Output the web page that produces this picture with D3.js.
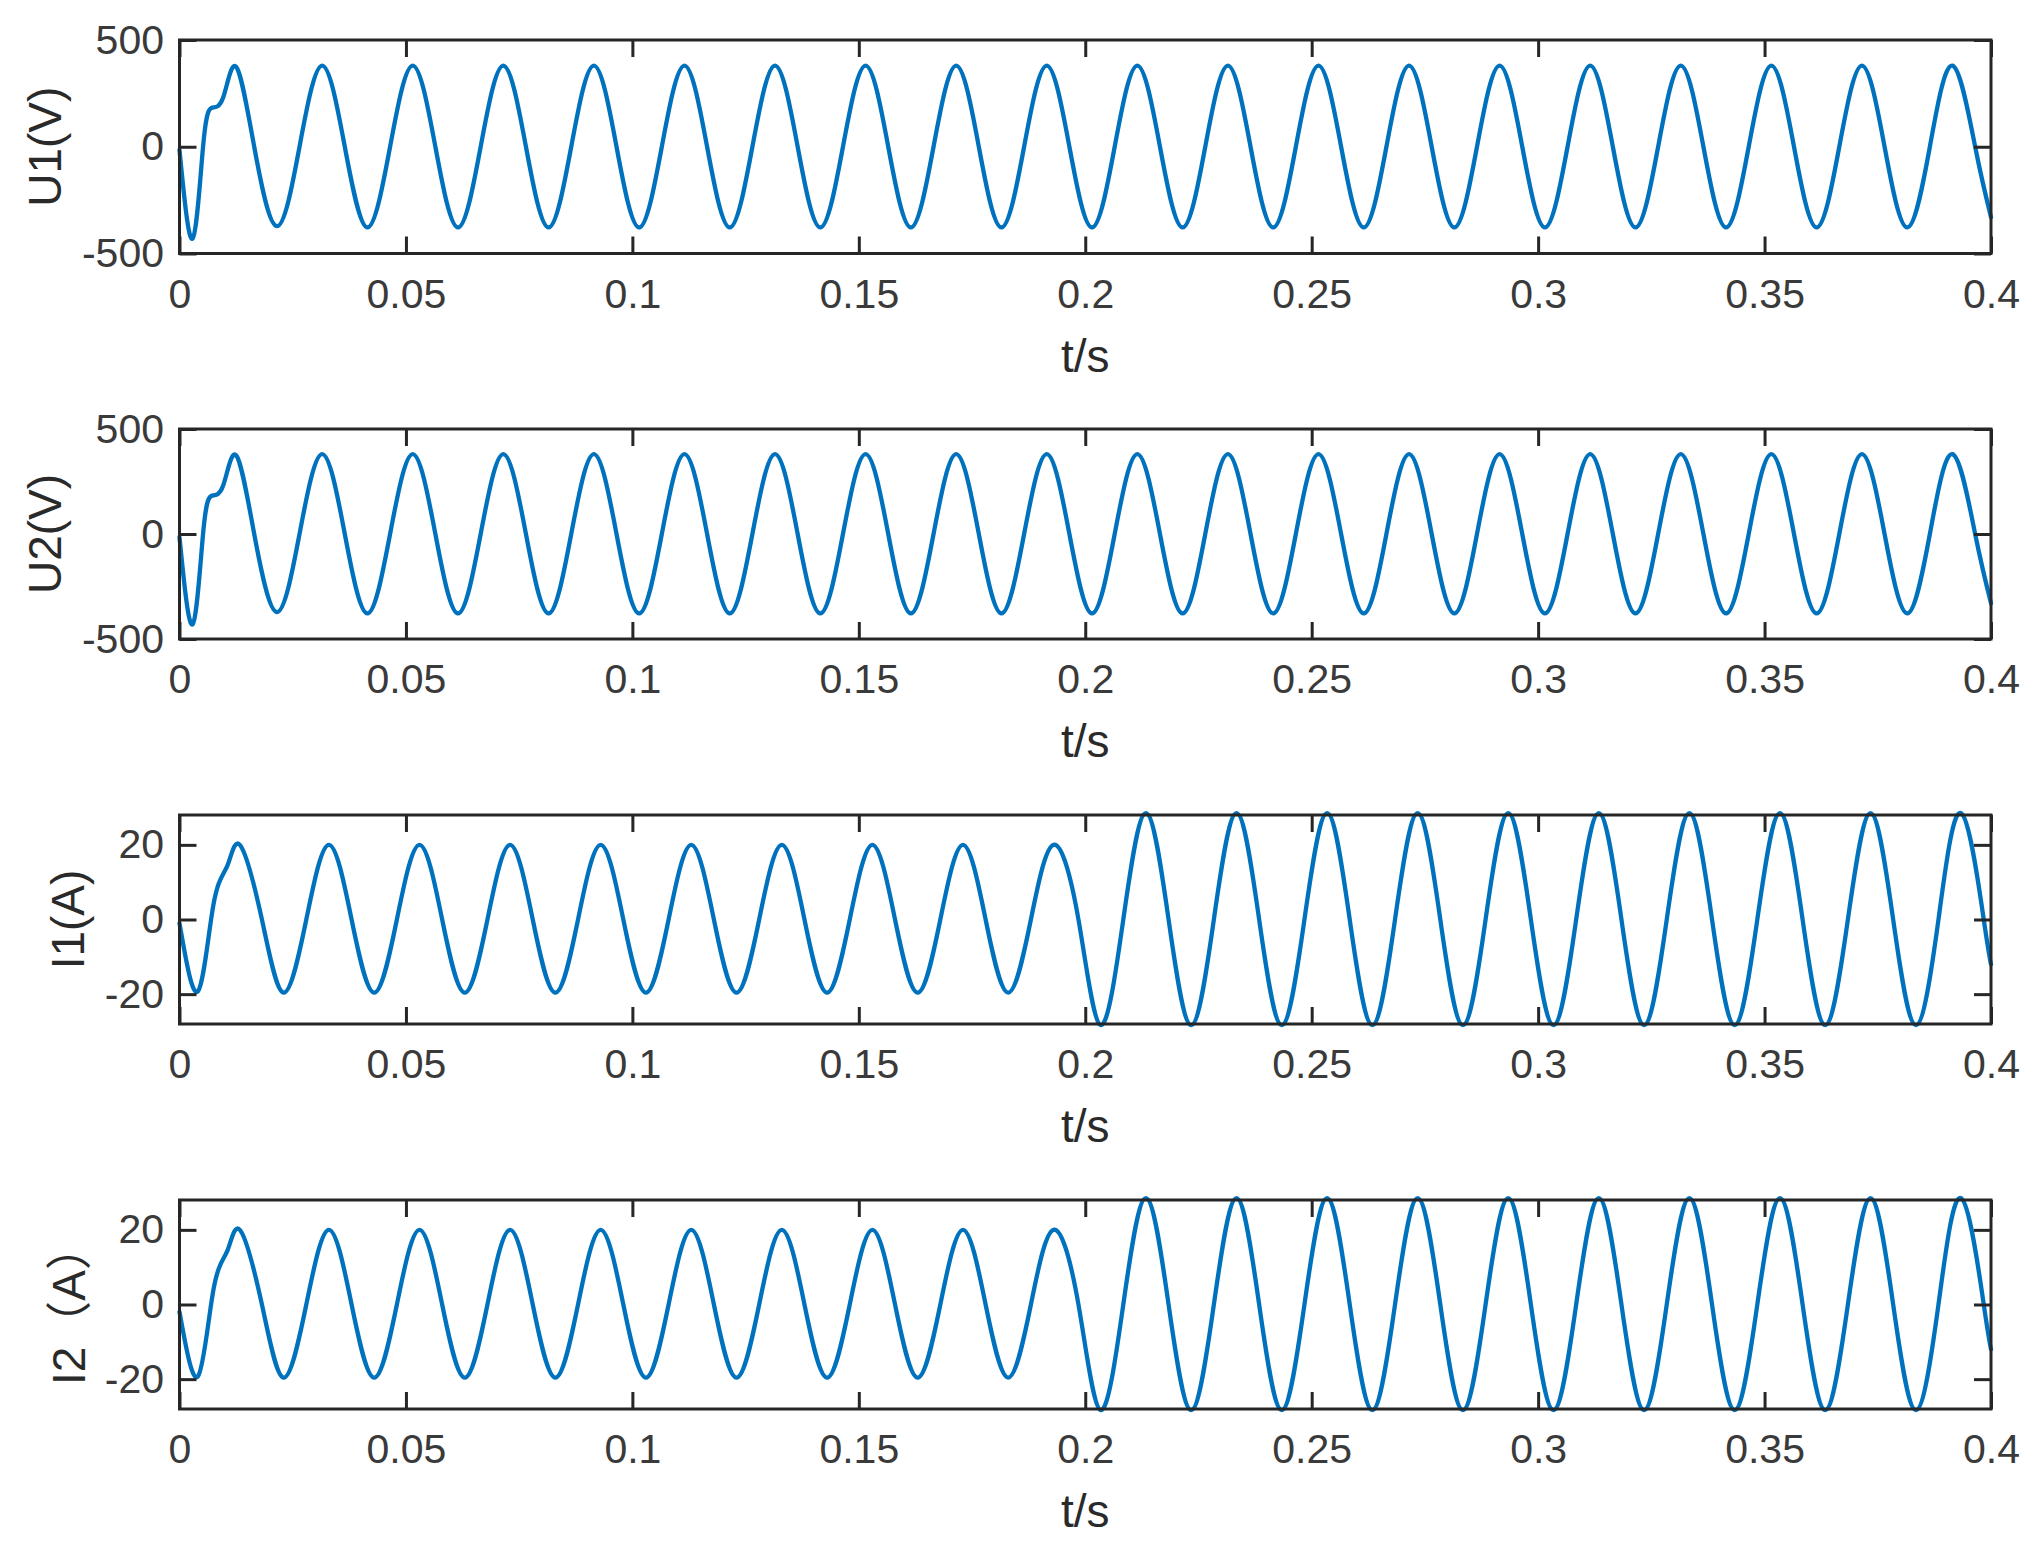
<!DOCTYPE html>
<html>
<head>
<meta charset="utf-8">
<script src="https://cdn.jsdelivr.net/npm/d3@7"></script>
<style>
  html, body { margin: 0; padding: 0; background: #ffffff; }
  svg { display: block; }
</style>
</head>
<body>
<svg id="chart" width="2041" height="1551"></svg>
<script>
// ---------------- DATA ----------------
const xTickValues = [0, 0.05, 0.1, 0.15, 0.2, 0.25, 0.3, 0.35, 0.4];
const xTickLabels = ["0", "0.05", "0.1", "0.15", "0.2", "0.25", "0.3", "0.35", "0.4"];
const uTicks = [-500, 0, 500];
const iTicks = [-20, 0, 20];
const yLabels = ["U1(V)", "U2(V)", "I1(A)", "I2（A）"];
const xLabel = "t/s";

// time stamps (s) of the read-off points for the voltage traces
const timeU = [
  0, 0.0029, 0.0052, 0.0070, 0.0096, 0.0125, 0.0165, 0.0215,
  0.0265, 0.0315, 0.0365, 0.0415, 0.0465, 0.0515, 0.0565, 0.0615,
  0.0665, 0.0715, 0.0765, 0.0815, 0.0865, 0.0915, 0.0965, 0.1015,
  0.1065, 0.1115, 0.1165, 0.1215, 0.1265, 0.1315, 0.1365, 0.1415,
  0.1465, 0.1515, 0.1565, 0.1615, 0.1665, 0.1715, 0.1765, 0.1815,
  0.1865, 0.1915, 0.1965, 0.2015, 0.2065, 0.2115, 0.2165, 0.2215,
  0.2265, 0.2315, 0.2365, 0.2415, 0.2465, 0.2515, 0.2565, 0.2615,
  0.2665, 0.2715, 0.2765, 0.2815, 0.2865, 0.2915, 0.2965, 0.3015,
  0.3065, 0.3115, 0.3165, 0.3215, 0.3265, 0.3315, 0.3365, 0.3415,
  0.3465, 0.3515, 0.3565, 0.3615, 0.3665, 0.3715, 0.3765, 0.3815,
  0.3865, 0.3915, 0.3965, 0.4
];
const u1Values = [
  -15, -430, 0, 181, 228, 375, 0, -372,
  0, 380, 0, -378, 0, 380, 0, -378,
  0, 380, 0, -378, 0, 380, 0, -378,
  0, 380, 0, -378, 0, 380, 0, -378,
  0, 380, 0, -378, 0, 380, 0, -378,
  0, 380, 0, -378, 0, 380, 0, -378,
  0, 380, 0, -378, 0, 380, 0, -378,
  0, 380, 0, -378, 0, 380, 0, -378,
  0, 380, 0, -378, 0, 380, 0, -378,
  0, 380, 0, -378, 0, 380, 0, -378,
  0, 380, 0, -330
];
const u2Values = [
  -15, -430, 0, 181, 228, 375, 0, -372,
  0, 380, 0, -378, 0, 380, 0, -378,
  0, 380, 0, -378, 0, 380, 0, -378,
  0, 380, 0, -378, 0, 380, 0, -378,
  0, 380, 0, -378, 0, 380, 0, -378,
  0, 380, 0, -378, 0, 380, 0, -378,
  0, 380, 0, -378, 0, 380, 0, -378,
  0, 380, 0, -378, 0, 380, 0, -378,
  0, 380, 0, -378, 0, 380, 0, -378,
  0, 380, 0, -378, 0, 380, 0, -378,
  0, 380, 0, -330
];

// time stamps (s) of the read-off points for the current traces
const timeI = [
  0, 0.0041, 0.0075, 0.0106, 0.0134, 0.0182, 0.0230,
  0.0280, 0.0330, 0.0380, 0.0430, 0.0480, 0.0530, 0.0580, 0.0630,
  0.0680, 0.0730, 0.0780, 0.0830, 0.0880, 0.0930, 0.0980, 0.1030,
  0.1080, 0.1130, 0.1180, 0.1230, 0.1280, 0.1330, 0.1380, 0.1430,
  0.1480, 0.1530, 0.1580, 0.1630, 0.1680, 0.1730, 0.1780, 0.1830,
  0.1880, 0.1930, 0.1985,
  0.2034, 0.2084, 0.2134, 0.2184, 0.2234, 0.2284, 0.2334, 0.2384,
  0.2434, 0.2484, 0.2534, 0.2584, 0.2634, 0.2684, 0.2734, 0.2784,
  0.2834, 0.2884, 0.2934, 0.2984, 0.3034, 0.3084, 0.3134, 0.3184,
  0.3234, 0.3284, 0.3334, 0.3384, 0.3434, 0.3484, 0.3534, 0.3584,
  0.3634, 0.3684, 0.3734, 0.3784, 0.3834, 0.3884, 0.3934, 0.3984,
  0.4
];
const i1Values = [
  -1, -19.2, 4, 14.5, 19.9, 0, -19.6,
  0, 20, 0, -19.6, 0, 20, 0, -19.6,
  0, 20, 0, -19.6, 0, 20, 0, -19.6,
  0, 20, 0, -19.6, 0, 20, 0, -19.6,
  0, 20, 0, -19.6, 0, 20, 0, -19.6,
  0, 20, 0,
  -28.3, 0, 28.5, 0, -28.3, 0, 28.5, 0,
  -28.3, 0, 28.5, 0, -28.3, 0, 28.5, 0,
  -28.3, 0, 28.5, 0, -28.3, 0, 28.5, 0,
  -28.3, 0, 28.5, 0, -28.3, 0, 28.5, 0,
  -28.3, 0, 28.5, 0, -28.3, 0, 28.5, 0,
  -12
];
const i2Values = [
  -2, -19.2, 4, 14.5, 19.9, 0, -19.6,
  0, 20, 0, -19.6, 0, 20, 0, -19.6,
  0, 20, 0, -19.6, 0, 20, 0, -19.6,
  0, 20, 0, -19.6, 0, 20, 0, -19.6,
  0, 20, 0, -19.6, 0, 20, 0, -19.6,
  0, 20, 0,
  -28.3, 0, 28.5, 0, -28.3, 0, 28.5, 0,
  -28.3, 0, 28.5, 0, -28.3, 0, 28.5, 0,
  -28.3, 0, 28.5, 0, -28.3, 0, 28.5, 0,
  -28.3, 0, 28.5, 0, -28.3, 0, 28.5, 0,
  -28.3, 0, 28.5, 0, -28.3, 0, 28.5, 0,
  -12
];

// ---------------- LAYOUT / STYLE ----------------
const FONT = '"Liberation Sans", Arial, Helvetica, "Noto Sans CJK SC", sans-serif';
const TICK_FONT = 41;
const LABEL_FONT = 46;
const TICK_COLOR = "#3a3a3a";
const LABEL_COLOR = "#2a2a2a";
const AXIS_COLOR = "#262626";
const LINE_COLOR = "#0072BD";
const TICK_LEN = 17;
const X0 = 179.5, X1 = 1991;

const panels = [
  { time: timeU, values: u1Values, domain: [-500, 500], ticks: uTicks, label: yLabels[0], top: 40,   bottom: 253.5, labelX: 61 },
  { time: timeU, values: u2Values, domain: [-500, 500], ticks: uTicks, label: yLabels[1], top: 429,  bottom: 639,   labelX: 61 },
  { time: timeI, values: i1Values, domain: [-28, 28],   ticks: iTicks, label: yLabels[2], top: 815,  bottom: 1024,  labelX: 84 },
  { time: timeI, values: i2Values, domain: [-28, 28],   ticks: iTicks, label: yLabels[3], top: 1200, bottom: 1409,  labelX: 85 }
];

const svg = d3.select("#chart");
svg.append("rect").attr("width", 2041).attr("height", 1551).attr("fill", "#ffffff");

const x = d3.scaleLinear().domain([0, 0.4]).range([X0, X1]);

panels.forEach(p => {
  const y = d3.scaleLinear().domain(p.domain).range([p.bottom, p.top]);
  const g = svg.append("g");

  // data line
  const pts = p.time.map((t, i) => [t, p.values[i]]);
  const line = d3.line()
    .x(d => x(d[0]))
    .y(d => y(d[1]))
    .curve(d3.curveNatural);
  g.append("path")
    .datum(pts)
    .attr("d", line)
    .attr("fill", "none")
    .attr("stroke", LINE_COLOR)
    .attr("stroke-width", 4.3)
    .attr("stroke-linejoin", "round")
    .attr("stroke-linecap", "round");

  // axes
  const styleAxis = (sel) => {
    sel.select(".domain").remove();
    sel.selectAll(".tick line").attr("stroke", AXIS_COLOR).attr("stroke-width", 3);
    sel.selectAll(".tick text")
      .attr("fill", TICK_COLOR)
      .style("font-family", FONT)
      .style("font-size", TICK_FONT + "px");
  };

  const xb = g.append("g").attr("transform", `translate(0,${p.bottom})`)
    .call(d3.axisBottom(x).tickValues(xTickValues)
      .tickFormat((d, i) => xTickLabels[i])
      .tickSizeInner(-TICK_LEN).tickSizeOuter(0).tickPadding(25));
  styleAxis(xb);

  const xt = g.append("g").attr("transform", `translate(0,${p.top})`)
    .call(d3.axisTop(x).tickValues(xTickValues).tickFormat("")
      .tickSizeInner(-TICK_LEN).tickSizeOuter(0));
  styleAxis(xt);

  const yl = g.append("g").attr("transform", `translate(${X0},0)`)
    .call(d3.axisLeft(y).tickValues(p.ticks).tickFormat(d => String(d))
      .tickSizeInner(-TICK_LEN).tickSizeOuter(0).tickPadding(15.5));
  styleAxis(yl);

  const yr = g.append("g").attr("transform", `translate(${X1},0)`)
    .call(d3.axisRight(y).tickValues(p.ticks).tickFormat("")
      .tickSizeInner(-TICK_LEN).tickSizeOuter(0));
  styleAxis(yr);

  // box
  g.append("rect")
    .attr("x", X0).attr("y", p.top)
    .attr("width", X1 - X0).attr("height", p.bottom - p.top)
    .attr("fill", "none").attr("stroke", AXIS_COLOR).attr("stroke-width", 3);

  // x label
  g.append("text")
    .attr("x", (X0 + X1) / 2).attr("y", p.bottom + 118)
    .attr("text-anchor", "middle")
    .attr("fill", LABEL_COLOR)
    .style("font-family", FONT).style("font-size", LABEL_FONT + "px")
    .text(xLabel);

  // y label
  g.append("text")
    .attr("transform", `translate(${p.labelX},${(p.top + p.bottom) / 2}) rotate(-90)`)
    .attr("text-anchor", "middle")
    .attr("fill", LABEL_COLOR)
    .style("font-family", FONT).style("font-size", LABEL_FONT + "px")
    .text(p.label);
});
</script>
</body>
</html>
